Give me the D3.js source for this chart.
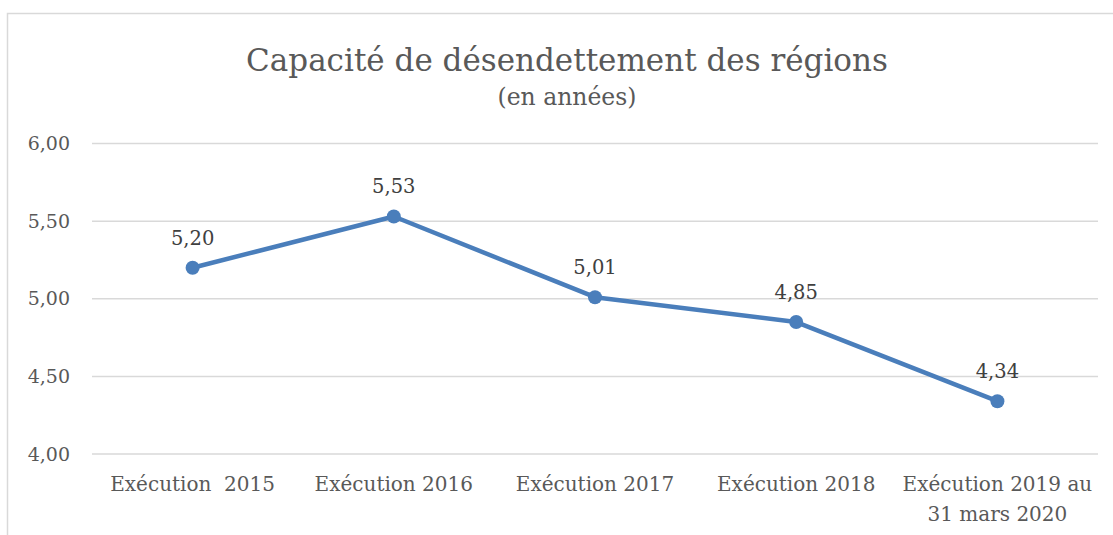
<!DOCTYPE html>
<html>
<head>
<meta charset="utf-8">
<script src="https://cdn.jsdelivr.net/npm/d3@7"></script>
<style>
  body { margin: 0; background: #fff; }
  text { font-family: "DejaVu Serif", "Liberation Serif", serif; white-space: pre; }
</style>
</head>
<body>
<div id="chart"></div>
<script>
// données
const categories = ["Exécution  2015", "Exécution 2016", "Exécution 2017", "Exécution 2018", "Exécution 2019 au|31 mars 2020"];
const values = [5.20, 5.53, 5.01, 4.85, 4.34];
const yTicks = [4.00, 4.50, 5.00, 5.50, 6.00];

const W = 1113, H = 535;
const margin = { top: 143.5, right: 15, bottom: 81, left: 92 };
const width = W - margin.left - margin.right;
const height = H - margin.top - margin.bottom;

const fmt = v => v.toFixed(2).replace(".", ",");

const svg = d3.select("#chart")
    .append("svg")
    .attr("width", W)
    .attr("height", H);

// cadre
svg.append("path")
    .attr("d", `M7.5,${H} V13.5 H${W}`)
    .attr("fill", "none")
    .attr("stroke", "#d9d9d9")
    .attr("stroke-width", 1.5);

// titre
svg.append("text")
    .attr("x", 567)
    .attr("y", 71)
    .attr("text-anchor", "middle")
    .attr("fill", "#595959")
    .style("font-size", "31px")
    .text("Capacité de désendettement des régions");

svg.append("text")
    .attr("x", 567)
    .attr("y", 105)
    .attr("text-anchor", "middle")
    .attr("fill", "#595959")
    .style("font-size", "23.5px")
    .text("(en années)");

const g = svg.append("g")
    .attr("transform", `translate(${margin.left},${margin.top})`);

const x = d3.scaleBand()
    .domain(categories)
    .range([0, width]);

const y = d3.scaleLinear()
    .domain([4, 6])
    .range([height, 0]);

// grille
g.append("g")
    .selectAll("line")
    .data(yTicks)
    .join("line")
    .attr("x1", 0)
    .attr("x2", width)
    .attr("y1", d => y(d))
    .attr("y2", d => y(d))
    .attr("stroke", "#d9d9d9")
    .attr("stroke-width", 1.5);

// axe Y
g.append("g")
    .call(d3.axisLeft(y).tickValues(yTicks).tickFormat(fmt).tickSize(0).tickPadding(22))
    .call(a => a.select(".domain").remove())
    .selectAll("text")
    .attr("fill", "#595959")
    .style("font-size", "19px")
    .style("font-family", "DejaVu Serif, serif");

// axe X
const xAxis = g.append("g")
    .attr("transform", `translate(0,${height})`)
    .call(d3.axisBottom(x).tickSize(0).tickFormat(""))
    .call(a => a.select(".domain").remove());

xAxis.selectAll(".tick")
    .append("text")
    .attr("text-anchor", "middle")
    .attr("fill", "#595959")
    .style("font-size", "20px")
    .selectAll("tspan")
    .data(d => d.split("|"))
    .join("tspan")
    .attr("x", 0)
    .attr("y", (d, i) => 37 + i * 30)
    .text(d => d);

const cx = d => x(d) + x.bandwidth() / 2;

// ligne
g.append("path")
    .datum(values)
    .attr("fill", "none")
    .attr("stroke", "#4a7ebb")
    .attr("stroke-width", 4.5)
    .attr("stroke-linejoin", "round")
    .attr("d", d3.line()
        .x((d, i) => cx(categories[i]))
        .y(d => y(d)));

// points
g.append("g")
    .selectAll("circle")
    .data(values)
    .join("circle")
    .attr("cx", (d, i) => cx(categories[i]))
    .attr("cy", d => y(d))
    .attr("r", 7)
    .attr("fill", "#4a7ebb");

// étiquettes
g.append("g")
    .selectAll("text")
    .data(values)
    .join("text")
    .attr("x", (d, i) => cx(categories[i]))
    .attr("y", d => y(d) - 23)
    .attr("text-anchor", "middle")
    .attr("fill", "#404040")
    .style("font-size", "19.5px")
    .text(fmt);
</script>
</body>
</html>
